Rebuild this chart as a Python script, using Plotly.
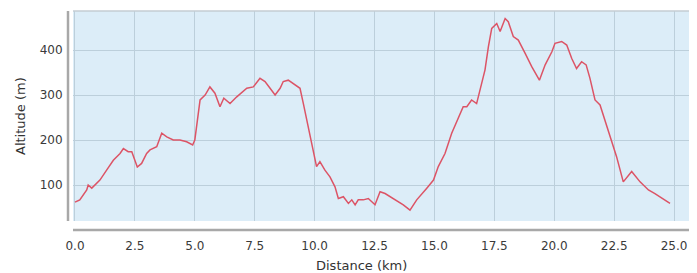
import plotly.graph_objects as go

distance_km = [0.0, 0.2, 0.49, 0.55, 0.7, 1.04, 1.32, 1.6, 1.88, 2.02, 2.22, 2.37, 2.6, 2.78, 2.99, 3.13,
               3.41, 3.62, 3.83, 4.1, 4.38, 4.66, 4.91, 5.0, 5.22, 5.43, 5.63, 5.84, 6.05, 6.21, 6.47,
               6.75, 7.17, 7.44, 7.72, 7.93, 8.14, 8.35, 8.56, 8.69, 8.9, 9.18, 9.39, 9.53, 9.74, 9.88,
               10.02, 10.08, 10.22, 10.43, 10.64, 10.85, 10.99, 11.2, 11.41, 11.55, 11.69, 11.82, 12.03,
               12.24, 12.52, 12.73, 12.94, 13.28, 13.7, 13.98, 14.26, 14.68, 14.96, 15.16, 15.44, 15.72,
               16.0, 16.2, 16.35, 16.55, 16.76, 16.9, 17.11, 17.25, 17.39, 17.6, 17.74, 17.95, 18.08,
               18.29, 18.5, 18.78, 19.06, 19.38, 19.62, 19.9, 20.03, 20.31, 20.52, 20.73, 20.93, 21.14,
               21.33, 21.49, 21.7, 21.91, 22.19, 22.4, 22.6, 22.88, 23.23, 23.58, 23.93, 24.2, 24.49, 24.83]
altitude_m = [62, 67, 89, 100, 93, 111, 133, 155, 170, 181, 174, 174, 140, 148, 170, 178,
              185, 215, 207, 200, 200, 196, 189, 200, 289, 300, 318, 304, 274, 293, 281,
              296, 315, 318, 337, 330, 315, 300, 315, 330, 333, 322, 315, 281, 230, 193,
              155, 141, 152, 133, 118, 96, 70, 74, 59, 67, 56, 67, 67,
              70, 56, 85, 81, 70, 56, 44, 67, 93, 111, 141, 170, 215,
              252, 274, 274, 289, 281, 311, 356, 407, 448, 459, 441, 470, 463,
              430, 422, 393, 363, 333, 367, 396, 415, 419, 411, 381, 359, 374,
              367, 337, 289, 278, 230, 193, 163, 107, 130, 107, 89, 81, 70, 59]

x_ticks = [0.0, 2.5, 5.0, 7.5, 10.0, 12.5, 15.0, 17.5, 20.0, 22.5, 25.0]
x_tick_labels = ["0.0", "2.5", "5.0", "7.5", "10.0", "12.5", "15.0", "17.5", "20.0", "22.5", "25.0"]
y_ticks = [100, 200, 300, 400]
y_tick_labels = ["100", "200", "300", "400"]

fig = go.Figure()
fig.add_trace(go.Scatter(x=distance_km, y=altitude_m, mode="lines",
                         line=dict(color="#dc5466", width=1.5), hoverinfo="skip"))

grid_color = "#bccfdb"
tick_font = dict(family="DejaVu Sans", size=12, color="#3a3a3a")

# page body has an 8px default margin, so the figure is laid out 8px up/left
PW, PH = 632, 210
fig.update_layout(
    width=697, height=273,
    margin=dict(l=65, r=0, t=3, b=60, autoexpand=False),
    paper_bgcolor="white",
    plot_bgcolor="#dcedf8",
    showlegend=False,
    xaxis=dict(range=[-0.083, 26.29], tickvals=x_ticks, ticktext=x_tick_labels,
               showgrid=True, gridcolor=grid_color, gridwidth=1, zeroline=False,
               ticks="outside", ticklen=14, tickcolor="rgba(0,0,0,0)", automargin=False,
               tickfont=tick_font, showline=False),
    yaxis=dict(range=[20, 486.7], tickvals=y_ticks, ticktext=y_tick_labels,
               showgrid=True, gridcolor=grid_color, gridwidth=1, zeroline=False,
               ticks="outside", ticklen=7, tickcolor="rgba(0,0,0,0)", automargin=False,
               tickfont=tick_font, showline=False),
    shapes=[
        dict(type="line", xref="paper", yref="paper", x0=-5 / PW, x1=-5 / PW, y0=0, y1=1,
             line=dict(color="#a8a8a8", width=2.5)),
        dict(type="line", xref="paper", yref="paper", x0=0, x1=1, y0=-9 / PH, y1=-9 / PH,
             line=dict(color="#a8a8a8", width=2.5)),
        dict(type="line", xref="paper", yref="paper", x0=0, x1=1, y0=1, y1=1,
             line=dict(color="#c4cdd3", width=1.5)),
    ],
    annotations=[
        dict(text="Distance (km)", xref="paper", yref="paper",
             x=(353 - 65) / PW, y=(213 - 257) / PH, showarrow=False,
             font=dict(family="DejaVu Sans", size=13, color="#333333"),
             xanchor="center", yanchor="middle"),
        dict(text="Altitude (m)", xref="paper", yref="paper",
             x=(12 - 65) / PW, y=0.5, showarrow=False, textangle=-90,
             font=dict(family="DejaVu Sans", size=13, color="#333333"),
             xanchor="center", yanchor="middle"),
    ],
)

fig.write_html("out.html")
